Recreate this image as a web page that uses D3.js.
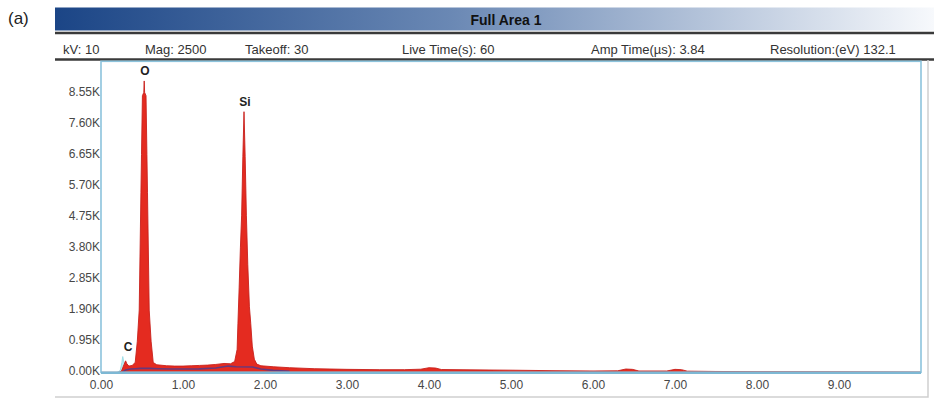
<!DOCTYPE html>
<html>
<head>
<meta charset="utf-8">
<script src="https://cdn.jsdelivr.net/npm/d3@7"></script>
<style>
  html, body { margin: 0; padding: 0; background: #fff; }
  svg { display: block; }
</style>
</head>
<body>
<svg id="chart" width="934" height="401"></svg>
<script>
// ---- EDS spectrum data -------------------------------------------------
// Measured spectrum: energy (keV) and counts
const energyKeV = [
  0.00, 0.22, 0.25, 0.28, 0.30, 0.315, 0.34, 0.38, 0.417, 0.443,
  0.466, 0.487, 0.494, 0.505, 0.522, 0.527, 0.532, 0.549, 0.560, 0.567,
  0.588, 0.611, 0.637, 0.68, 0.80, 0.90, 1.00, 1.10, 1.20, 1.30,
  1.40, 1.50, 1.58, 1.63, 1.66, 1.67, 1.685, 1.70, 1.715, 1.73,
  1.744, 1.758, 1.773, 1.79, 1.81, 1.826, 1.845, 1.87, 1.90, 1.95,
  2.10, 2.30, 2.60, 3.00, 3.40, 3.70, 3.90, 4.00, 4.08, 4.15,
  4.50, 5.00, 5.50, 6.00, 6.30, 6.40, 6.48, 6.56, 6.90, 7.00,
  7.08, 7.15, 7.50, 8.00, 9.00, 10.00
];
const counts = [
  0, 0, 40, 230, 350, 260, 190, 210, 300, 950,
  1900, 5500, 6650, 8450, 8550, 8900, 8550, 8450, 6650, 5500,
  1900, 950, 300, 230, 200, 190, 190, 200, 210, 220,
  240, 270, 260, 330, 700, 1500, 2600, 3800, 4800, 6600,
  7960, 6600, 4800, 3300, 2000, 1500, 800, 400, 250, 200,
  170, 140, 110, 90, 80, 80, 95, 140, 130, 85,
  75, 65, 50, 40, 45, 100, 90, 40, 40, 90,
  80, 35, 25, 20, 15, 10
];

// Second overlaid spectrum around the carbon line
const energyOverlay = [0.20, 0.235, 0.255, 0.265, 0.275, 0.29, 0.32];
const countsOverlay = [0, 60, 300, 480, 350, 200, 150];

// Continuum (background) trace
const energyBackground = [0.26, 0.30, 0.36, 0.42, 0.48, 0.60, 0.70, 0.85, 1.00, 1.20, 1.40, 1.55, 1.65, 1.85, 1.95, 2.10, 2.30];
const countsBackground = [0, 70, 100, 110, 120, 120, 110, 100, 100, 105, 130, 190, 170, 160, 100, 60, 30];

// Element line labels
const elementNames = ["C", "O", "Si"];
const elementLabelKeV = [0.33, 0.537, 1.756];
const elementLabelCounts = [480, 8900, 7960];

// Axis ticks
const xTicks = [0, 1, 2, 3, 4, 5, 6, 7, 8, 9];
const yTicks = [0, 950, 1900, 2850, 3800, 4750, 5700, 6650, 7600, 8550];

// Acquisition parameters in the header row
const headerTitle = "Full Area 1";
const headerFields = ["kV: 10", "Mag: 2500", "Takeoff: 30", "Live Time(s): 60", "Amp Time(µs): 3.84", "Resolution:(eV) 132.1"];
const headerFieldX = [63, 145, 245, 402, 591, 770];

// ---- layout -----------------------------------------------------------
const svg = d3.select("#chart");
const plot = { left: 101, right: 921, top: 61.3, bottom: 372.3 };
const tickFont = "Liberation Sans, Arial, sans-serif";

const x = d3.scaleLinear().domain([0, 10]).range([plot.left, plot.right]);
const y = d3.scaleLinear().domain([0, 9500]).range([plot.bottom, plot.top]);

// panel tag
svg.append("text")
  .attr("x", 8).attr("y", 24)
  .attr("font-family", "Liberation Sans, Arial, sans-serif")
  .attr("font-size", 17).attr("fill", "#222")
  .text("(a)");

// gradient title bar
const defs = svg.append("defs");
const grad = defs.append("linearGradient").attr("id", "barGrad")
  .attr("x1", "0%").attr("x2", "100%").attr("y1", "0%").attr("y2", "0%");
grad.append("stop").attr("offset", "0%").attr("stop-color", "#1b4586");
grad.append("stop").attr("offset", "45%").attr("stop-color", "#6a88b4");
grad.append("stop").attr("offset", "100%").attr("stop-color", "#f7f9fc");

svg.append("rect")
  .attr("x", 55).attr("y", 7.5).attr("width", 879).attr("height", 23)
  .attr("fill", "url(#barGrad)");

svg.append("text")
  .attr("x", 506).attr("y", 25)
  .attr("text-anchor", "middle")
  .attr("font-family", "Liberation Sans, Arial, sans-serif")
  .attr("font-size", 14).attr("font-weight", "bold").attr("fill", "#111")
  .text(headerTitle);

// header rules
[33, 59.5].forEach(yy => {
  svg.append("line")
    .attr("x1", 55).attr("x2", 934).attr("y1", yy).attr("y2", yy)
    .attr("stroke", "#3a3a3a").attr("stroke-width", 2.4);
});

svg.append("g").selectAll("text")
  .data(headerFields)
  .join("text")
  .attr("x", (d, i) => headerFieldX[i])
  .attr("y", 53.5)
  .attr("font-family", "Liberation Sans, Arial, sans-serif")
  .attr("font-size", 13).attr("fill", "#333")
  .text(d => d);

// outer panel border (right + bottom)
svg.append("path")
  .attr("d", `M55,397 H928 V60`)
  .attr("fill", "none").attr("stroke", "#cfcfcf").attr("stroke-width", 1.5);

// ---- spectrum ---------------------------------------------------------
const overlayPts = energyOverlay.map((e, i) => [e, countsOverlay[i]]);
const spectrumPts = energyKeV.map((e, i) => [e, counts[i]]);
const backgroundPts = energyBackground.map((e, i) => [e, countsBackground[i]]);

const area = d3.area()
  .x(d => x(d[0]))
  .y0(y(0))
  .y1(d => y(d[1]));
const line = d3.line()
  .x(d => x(d[0]))
  .y(d => y(d[1]));

svg.append("path")
  .datum(overlayPts)
  .attr("d", area)
  .attr("fill", "#bfeef2")
  .attr("stroke", "#9fdde6").attr("stroke-width", 1);

svg.append("path")
  .datum(spectrumPts)
  .attr("d", area)
  .attr("fill", "#e42b20");
svg.append("path")
  .datum(spectrumPts)
  .attr("d", line)
  .attr("fill", "none")
  .attr("stroke", "#c8201c").attr("stroke-width", 0.9);

svg.append("path")
  .datum(backgroundPts)
  .attr("d", line)
  .attr("fill", "none")
  .attr("stroke", "#3b3f9e").attr("stroke-opacity", 0.75)
  .attr("stroke-width", 1.6);

// ---- frame and axes ---------------------------------------------------
svg.append("rect")
  .attr("x", plot.left).attr("y", plot.top)
  .attr("width", plot.right - plot.left).attr("height", plot.bottom - plot.top)
  .attr("fill", "none").attr("stroke", "#8cc3dc").attr("stroke-width", 1.6);
svg.append("line")
  .attr("x1", plot.left).attr("x2", plot.right)
  .attr("y1", plot.bottom + 0.5).attr("y2", plot.bottom + 0.5)
  .attr("stroke", "#7db8d4").attr("stroke-width", 2.2);

const xAxis = svg.append("g")
  .attr("transform", `translate(0,${plot.bottom})`)
  .call(d3.axisBottom(x).tickValues(xTicks).tickFormat(d3.format(".2f")).tickSize(0).tickPadding(8));
xAxis.select(".domain").remove();
xAxis.selectAll("text")
  .attr("font-family", tickFont)
  .attr("font-size", 12).attr("fill", "#474747");

const yAxis = svg.append("g")
  .attr("transform", `translate(${plot.left},0)`)
  .call(d3.axisLeft(y).tickValues(yTicks)
    .tickFormat(d => d3.format(".2f")(d / 1000) + "K").tickSize(0).tickPadding(1));
yAxis.select(".domain").remove();
yAxis.selectAll("text")
  .attr("font-family", tickFont)
  .attr("font-size", 12).attr("fill", "#474747")
  .attr("dy", "0.22em");

// element labels above their lines
svg.append("g").selectAll("text")
  .data(elementNames)
  .join("text")
  .attr("x", (d, i) => x(elementLabelKeV[i]))
  .attr("y", (d, i) => y(elementLabelCounts[i]) - 6)
  .attr("text-anchor", "middle")
  .attr("font-family", "Liberation Sans, Arial, sans-serif")
  .attr("font-size", 12).attr("font-weight", "bold").attr("fill", "#222")
  .text(d => d);
</script>
</body>
</html>
